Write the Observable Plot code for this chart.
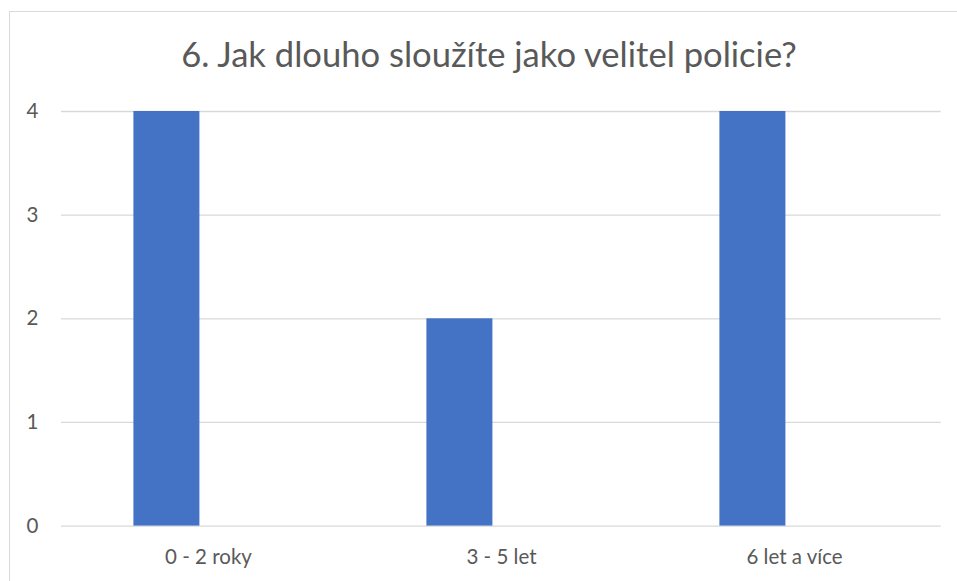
<!DOCTYPE html>
<html>
<head>
<meta charset="utf-8">
<script src="https://cdn.jsdelivr.net/npm/d3@7"></script>
<script src="https://cdn.jsdelivr.net/npm/@observablehq/plot@0.6"></script>
<style>
  html, body { margin: 0; padding: 0; background: #fff; overflow: hidden; }
  #page { position: relative; width: 957px; height: 581px; overflow: hidden; font-family: Lato, "Open Sans", sans-serif; }
  #frame { position: absolute; left: 9px; top: 11px; width: 1100px; height: 1100px; border: 1.3px solid #d9d9d9; box-sizing: border-box; }
  #title { position: absolute; left: 0; top: 0; width: 957px; height: 90px; text-align: center; font-size: 34.6px; color: #595959; line-height: 1; padding-top: 36.5px; box-sizing: border-box; margin-left: 10.5px; white-space: nowrap; }
  #chart { position: absolute; left: 0; top: 90px; }
</style>
</head>
<body>
<div id="page">
  <div id="frame"></div>
  <div id="title">6. Jak dlouho sloužíte jako velitel policie?</div>
  <div id="chart"></div>
</div>
<script>
const categories = ["0 - 2 roky", "3 - 5 let", "6 let a více"];
const values = [4, 2, 4];
const yTicks = [0, 1, 2, 3, 4];

const data = categories.map((c, i) => ({category: c, value: values[i]}));

const chart = Plot.plot({
  width: 957,
  height: 491,
  marginTop: 21,
  marginBottom: 55.4,
  marginLeft: 61,
  marginRight: 16.3,
  style: {fontFamily: "Lato, 'Open Sans', sans-serif", fontSize: "20.5px", color: "#595959", background: "transparent"},
  x: {domain: categories, paddingInner: 0.775, paddingOuter: 0.3875, label: null},
  y: {domain: [0, 4], ticks: yTicks, label: null},
  marks: [
    Plot.ruleY(yTicks, {stroke: "#d9d9d9", strokeWidth: 1.3}),
    Plot.barY(data, {x: "category", y: "value", fill: "#4472C4", dx: -41.6}),
    Plot.axisY({ticks: yTicks, tickSize: 0, tickPadding: 23, tickFormat: d3.format("d"), fill: "#595959", label: null}),
    Plot.axisX({tickSize: 0, tickPadding: 23, fill: "#595959", label: null})
  ]
});
document.getElementById("chart").appendChild(chart);
</script>
</body>
</html>
